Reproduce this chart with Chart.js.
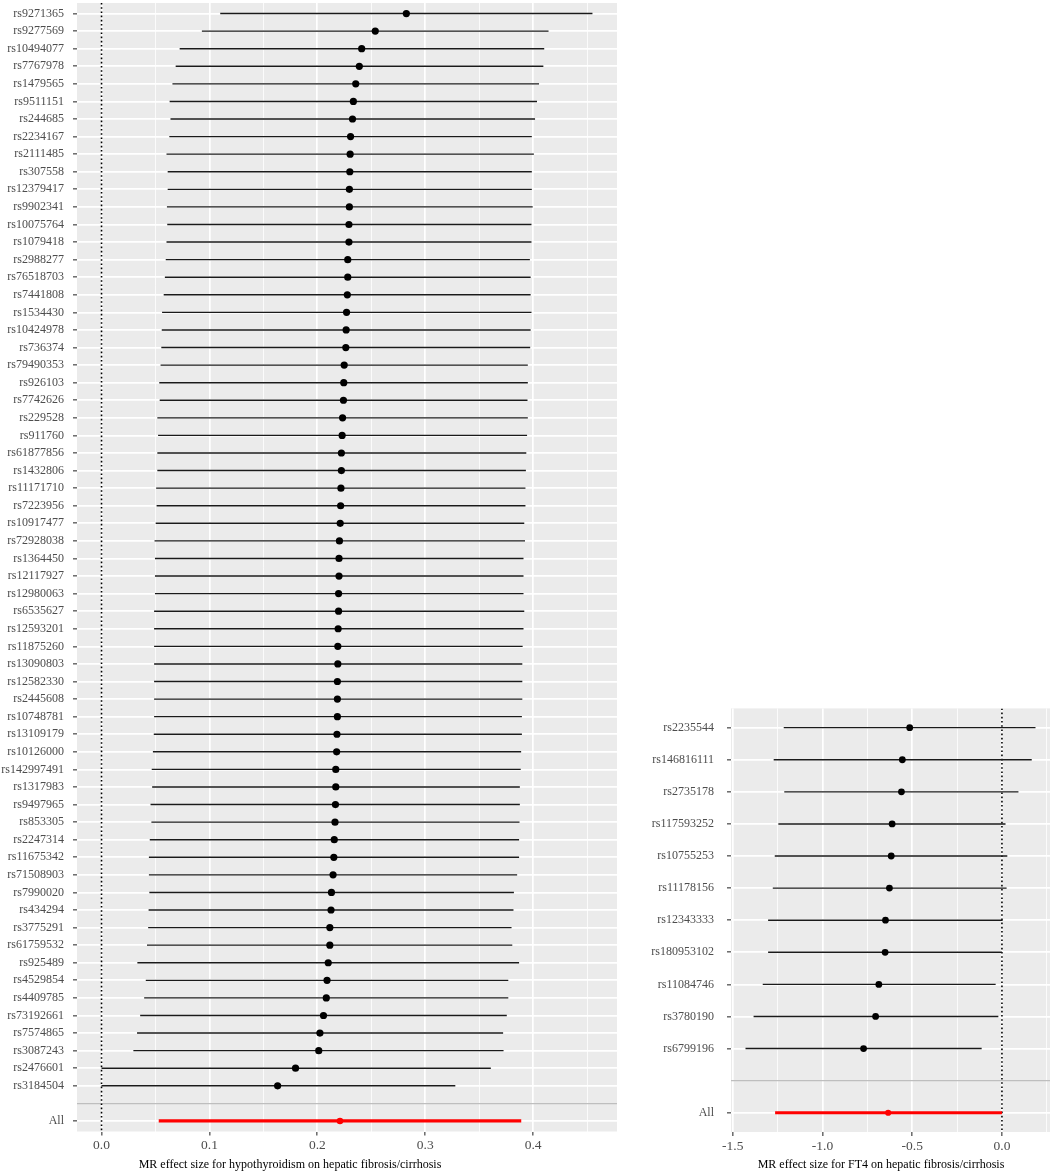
<!DOCTYPE html>
<html>
<head>
<meta charset="utf-8">
<script src="https://cdn.jsdelivr.net/npm/chart.js@4.4.0/dist/chart.umd.min.js"></script>
<style>
body{margin:0;background:#fff;width:1052px;height:1173px;position:relative;overflow:hidden;font-family:"Liberation Serif",serif}
.xtitle{position:absolute;font-size:12px;color:#000;white-space:nowrap;transform:translateX(-50%);line-height:14px}
</style>
</head>
<body>
<canvas id="chartA" width="630" height="1173" style="position:absolute;left:0;top:0"></canvas>
<canvas id="chartB" width="422" height="483" style="position:absolute;left:630px;top:690px"></canvas>
<div class="xtitle" style="left:290px;top:1157px">MR effect size for hypothyroidism on hepatic fibrosis/cirrhosis</div>
<div class="xtitle" style="left:881px;top:1157px">MR effect size for FT4 on hepatic fibrosis/cirrhosis</div>
<script>
// hypothyroidism -> hepatic fibrosis/cirrhosis
var snpsA = ["rs9271365","rs9277569","rs10494077","rs7767978","rs1479565","rs9511151","rs244685","rs2234167","rs2111485","rs307558",
  "rs12379417","rs9902341","rs10075764","rs1079418","rs2988277","rs76518703","rs7441808","rs1534430","rs10424978","rs736374",
  "rs79490353","rs926103","rs7742626","rs229528","rs911760","rs61877856","rs1432806","rs11171710","rs7223956","rs10917477",
  "rs72928038","rs1364450","rs12117927","rs12980063","rs6535627","rs12593201","rs11875260","rs13090803","rs12582330","rs2445608",
  "rs10748781","rs13109179","rs10126000","rs142997491","rs1317983","rs9497965","rs853305","rs2247314","rs11675342","rs71508903",
  "rs7990020","rs434294","rs3775291","rs61759532","rs925489","rs4529854","rs4409785","rs73192661","rs7574865","rs3087243",
  "rs2476601","rs3184504"];
var betaA = [0.2825,0.2537,0.2411,0.2389,0.2356,0.2334,0.2326,0.2308,0.2304,0.2301,
  0.2297,0.2297,0.2293,0.2293,0.2282,0.2282,0.2278,0.2271,0.2267,0.2264,
  0.2249,0.2245,0.2242,0.2234,0.2230,0.2223,0.2223,0.2219,0.2216,0.2212,
  0.2205,0.2201,0.2201,0.2197,0.2197,0.2193,0.2190,0.2190,0.2186,0.2186,
  0.2186,0.2182,0.2179,0.2171,0.2171,0.2168,0.2164,0.2157,0.2153,0.2146,
  0.2131,0.2127,0.2116,0.2116,0.2101,0.2090,0.2083,0.2057,0.2024,0.2013,
  0.1798,0.1632];
var loA = [0.110,0.093,0.0724,0.0687,0.0657,0.0631,0.0639,0.0628,0.0602,0.0613,
  0.0613,0.0606,0.0609,0.0602,0.0595,0.0587,0.0576,0.0561,0.0558,0.0554,
  0.0547,0.0535,0.0539,0.0517,0.0524,0.0517,0.0517,0.0506,0.0510,0.0502,
  0.0491,0.0495,0.0495,0.0495,0.0487,0.0487,0.0487,0.0487,0.0487,0.0487,
  0.0487,0.0484,0.0476,0.0465,0.0469,0.0454,0.0462,0.0447,0.0439,0.0439,
  0.0443,0.0436,0.0432,0.0421,0.0332,0.0410,0.0395,0.0358,0.0329,0.0295,
  0.0,0.0];
var hiA = [0.455,0.4143,0.4103,0.4095,0.4055,0.4036,0.4018,0.3988,0.4007,0.3988,
  0.3988,0.3996,0.3985,0.3985,0.3970,0.3977,0.3977,0.3985,0.3977,0.3973,
  0.3951,0.3951,0.3948,0.3951,0.3944,0.3937,0.3933,0.3929,0.3929,0.3918,
  0.3925,0.3911,0.3911,0.3911,0.3918,0.3911,0.3903,0.3900,0.3900,0.3900,
  0.3896,0.3896,0.3889,0.3885,0.3877,0.3877,0.3874,0.3870,0.3870,0.3852,
  0.3822,0.3818,0.3800,0.3807,0.3870,0.3770,0.3770,0.3756,0.3722,0.3726,
  0.3608,0.3279];
var allA = [0.053, 0.221, 0.389]; // lo, beta, hi

// FT4 -> hepatic fibrosis/cirrhosis
var snpsB = ["rs2235544","rs146816111","rs2735178","rs117593252","rs10755253","rs11178156",
  "rs12343333","rs180953102","rs11084746","rs3780190","rs6799196"];
var betaB = [-0.514,-0.555,-0.560,-0.612,-0.617,-0.627,-0.649,-0.651,-0.686,-0.704,-0.771];
var loB = [-1.216,-1.272,-1.213,-1.246,-1.266,-1.277,-1.303,-1.303,-1.333,-1.384,-1.429];
var hiB = [0.187,0.166,0.092,0.020,0.030,0.026,0.004,0.0,-0.035,-0.020,-0.113];
var allB = [-1.264, -0.634, 0.0];

var panelBg = {
  id: 'panelBg',
  beforeDraw: function(chart) {
    var a = chart.chartArea, ctx = chart.ctx;
    ctx.save();
    ctx.fillStyle = '#EBEBEB';
    ctx.fillRect(a.left, a.top, a.right - a.left, a.bottom - a.top);
    ctx.restore();
  }
};

function forest(id, snps, beta, lo, hi, all, step, yw, ypad, pad, ptR) {
  var n = snps.length;
  var xmin = Math.min.apply(null, lo.concat([all[0]]));
  var xmax = Math.max.apply(null, hi.concat([all[2]]));
  var ex = (xmax - xmin) * 0.05;
  xmin -= ex; xmax += ex;

  var rows = [];
  for (var i = 0; i <= n + 1; i++) rows.push(i);

  var half = step / 2, xt = [];
  for (var k = Math.ceil(xmin / half); k * half <= xmax; k++) xt.push(k);

  var segs = [], pts = [];
  for (var j = 0; j < n; j++) {
    segs.push({x: lo[j], y: j}, {x: hi[j], y: j}, {x: null, y: null});
    pts.push({x: beta[j], y: j});
  }

  new Chart(document.getElementById(id), {
    type: 'scatter',
    data: {
      datasets: [
        {data: [{x: 0, y: -0.6}, {x: 0, y: n + 1.6}], showLine: true, borderColor: '#000',
          borderWidth: 1.6, borderDash: [1.6, 2.6], pointRadius: 0, order: 5},
        {data: segs, showLine: true, spanGaps: false, borderColor: '#1a1a1a', borderWidth: 1.4,
          borderCapStyle: 'butt', pointRadius: 0, order: 4},
        {data: pts, backgroundColor: '#000', borderWidth: 0, pointRadius: ptR, order: 3},
        {data: [{x: all[0], y: n + 1}, {x: all[2], y: n + 1}], showLine: true, borderColor: '#FF0000',
          borderWidth: 3.2, borderCapStyle: 'butt', pointRadius: 0, order: 2},
        {data: [{x: all[1], y: n + 1}], backgroundColor: '#FF0000', borderWidth: 0, pointRadius: ptR - 0.3, order: 1}
      ]
    },
    options: {
      responsive: false,
      animation: false,
      events: [],
      layout: {padding: pad, autoPadding: false},
      plugins: {legend: {display: false}, tooltip: {enabled: false}},
      scales: {
        x: {
          type: 'linear', min: xmin, max: xmax,
          afterBuildTicks: function(s) { s.ticks = xt.map(function(k) { return {value: +(k * half).toFixed(4)}; }); },
          afterFit: function(s) { s.height = pad.xh; s.paddingLeft = 0; s.paddingRight = 0; },
          ticks: {
            autoSkip: false, maxRotation: 0, padding: 2, color: '#4D4D4D',
            font: {family: 'Liberation Serif', size: 13.5},
            callback: function(v, i) { return xt[i] % 2 === 0 ? (xt[i] * half).toFixed(1) : ''; }
          },
          grid: {
            color: '#FFFFFF',
            lineWidth: function(c) { return c.tick && xt[c.index] % 2 === 0 ? 1.7 : 0.8; },
            tickColor: function(c) { return c.tick && xt[c.index] % 2 === 0 ? '#333333' : 'rgba(0,0,0,0)'; },
            tickLength: 4, tickWidth: 1.1
          },
          border: {display: false}
        },
        y: {
          type: 'linear', reverse: true, min: -0.6, max: n + 1.6,
          afterBuildTicks: function(s) { s.ticks = rows.map(function(v) { return {value: v}; }); },
          afterFit: function(s) { s.width = yw; s.paddingTop = 0; s.paddingBottom = 0; },
          ticks: {
            autoSkip: false, padding: ypad, color: '#4D4D4D',
            font: {family: 'Liberation Serif', size: 12},
            callback: function(v) { return v < n ? snps[v] : (v === n + 1 ? 'All' : ''); }
          },
          grid: {
            color: function(c) { return c.tick && c.tick.value === n ? '#BEBEBE' : '#FFFFFF'; },
            lineWidth: function(c) { return c.tick && c.tick.value === n ? 1.3 : 1.7; },
            tickColor: function(c) { return c.tick && c.tick.value === n ? 'rgba(0,0,0,0)' : '#333333'; },
            tickLength: 4, tickWidth: 1.1
          },
          border: {display: false}
        }
      }
    },
    plugins: [panelBg]
  });
}

forest('chartA', snpsA, betaA, loA, hiA, allA, 0.1, 77, 9, {top: 3, right: 13, left: 0, bottom: 0, xh: 41.5}, 3.6);
forest('chartB', snpsB, betaB, loB, hiB, allB, 0.5, 101, 13, {top: 18.4, right: 2, left: 0, bottom: 0, xh: 41}, 3.4);
</script>
</body>
</html>
